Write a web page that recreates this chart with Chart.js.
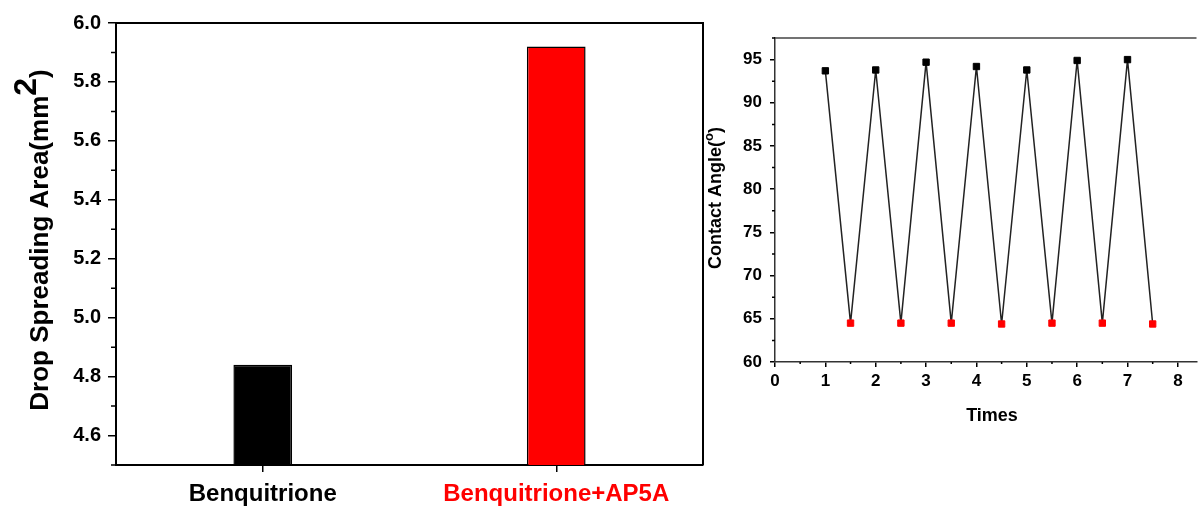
<!DOCTYPE html>
<html>
<head>
<meta charset="utf-8">
<script src="https://cdn.jsdelivr.net/npm/chart.js@4.4.0/dist/chart.umd.min.js"></script>
<style>
    html, body { margin: 0; padding: 0; background: #fff; }
    #wrap { position: relative; width: 1202px; height: 509px; overflow: hidden; }
    #areaChart { position: absolute; left: 0; top: 0; }
    #angleChart { position: absolute; left: 705px; top: 0; }
</style>
</head>
<body>
<div id="wrap">
    <canvas id="areaChart" width="712" height="509"></canvas>
    <canvas id="angleChart" width="497" height="509"></canvas>
</div>
<script>
// ==========================================
// DATA
// ==========================================

// Left panel - drop spreading area
const barCategories = ['Benquitrione', 'Benquitrione+AP5A'];
const barValues = [4.84, 5.92];
const barColors = ['#000000', '#ff0000'];

// Right panel - contact angle cycles
const highTimes = [1, 2, 3, 4, 5, 6, 7];
const highAngles = [93.7, 93.8, 94.7, 94.2, 93.8, 94.9, 95.0];
const lowTimes = [1.5, 2.5, 3.5, 4.5, 5.5, 6.5, 7.5];
const lowAngles = [64.5, 64.5, 64.5, 64.4, 64.5, 64.5, 64.4];

const FONT = '"Liberation Sans", Arial, sans-serif';

// zigzag line: high, low, high, low ...
const zigzag = [];
highTimes.forEach((t, i) => {
    zigzag.push({ x: t, y: highAngles[i] });
    zigzag.push({ x: lowTimes[i], y: lowAngles[i] });
});

// ==========================================
// HELPERS
// ==========================================

// short tick marks between the labelled ones
const drawMinor = (chart, axisId, first, step, len) => {
    const scale = chart.scales[axisId];
    const ctx = chart.ctx;
    ctx.save();
    ctx.strokeStyle = '#000';
    ctx.lineWidth = 1.5;
    ctx.beginPath();
    for (let v = first; v <= scale.max + 1e-9; v += step) {
        const p = scale.getPixelForValue(v);
        if (scale.isHorizontal()) {
            ctx.moveTo(p, scale.top);
            ctx.lineTo(p, scale.top + len);
        } else {
            ctx.moveTo(scale.right, p);
            ctx.lineTo(scale.right - len, p);
        }
    }
    ctx.stroke();
    ctx.restore();
};

// rotated axis title with a superscript part
const drawVTitle = (ctx, cx, cy, main, sup, tail, size, supSize, rise) => {
    ctx.save();
    ctx.translate(cx, cy);
    ctx.rotate(-Math.PI / 2);
    ctx.fillStyle = '#000';
    ctx.textBaseline = 'alphabetic';
    ctx.textAlign = 'left';
    ctx.font = `bold ${size}px ${FONT}`;
    const w1 = ctx.measureText(main).width;
    const w3 = ctx.measureText(tail).width;
    ctx.font = `bold ${supSize}px ${FONT}`;
    const w2 = ctx.measureText(sup).width;
    let x = -(w1 + w2 + w3) / 2;
    ctx.font = `bold ${size}px ${FONT}`;
    ctx.fillText(main, x, 0);
    x += w1;
    ctx.font = `bold ${supSize}px ${FONT}`;
    ctx.fillText(sup, x, -rise);
    x += w2;
    ctx.font = `bold ${size}px ${FONT}`;
    ctx.fillText(tail, x, 0);
    ctx.restore();
};

// ==========================================
// LEFT CHART (BAR)
// ==========================================

const areaDecor = {
    id: 'areaDecor',
    afterDraw(chart) {
        const ctx = chart.ctx;
        const a = chart.chartArea;
        ctx.save();
        ctx.strokeStyle = '#000';
        ctx.lineWidth = 2;
        ctx.beginPath();
        ctx.moveTo(a.left, a.top);
        ctx.lineTo(a.right, a.top);
        ctx.lineTo(a.right, a.bottom);
        ctx.stroke();
        ctx.restore();
        drawMinor(chart, 'y', 4.5, 0.2, 5);
        drawVTitle(ctx, 48, 240, 'Drop Spreading Area(mm', '2', ')', 26, 32, 12);
    }
};

new Chart(document.getElementById('areaChart'), {
    type: 'bar',
    data: {
        labels: barCategories,
        datasets: [{
            data: barValues,
            backgroundColor: barColors,
            borderColor: '#000',
            borderWidth: 1.5,
            barPercentage: 0.2,
            categoryPercentage: 1
        }]
    },
    options: {
        responsive: false,
        devicePixelRatio: 1,
        animation: false,
        layout: { padding: { left: 0, top: 23, right: 9, bottom: 0 } },
        plugins: { legend: { display: false }, tooltip: { enabled: false } },
        scales: {
            x: {
                afterFit: (s) => { s.height = 44; },
                grid: { offset: false, drawOnChartArea: false, tickLength: 7, color: '#000', lineWidth: 1.5 },
                border: { color: '#000', width: 2 },
                ticks: {
                    padding: 8,
                    color: (c) => barColors[c.index],
                    font: { family: FONT, size: 24, weight: 'bold' }
                }
            },
            y: {
                min: 4.5,
                max: 6.0,
                afterFit: (s) => { s.width = 116; },
                grid: { drawOnChartArea: false, tickLength: 8, color: '#000', lineWidth: 1.5 },
                border: { color: '#000', width: 2 },
                ticks: {
                    stepSize: 0.2,
                    includeBounds: false,
                    padding: 7,
                    color: '#000',
                    font: { family: FONT, size: 20, weight: 'bold' },
                    callback: (v) => Number(v).toFixed(1)
                }
            }
        }
    },
    plugins: [areaDecor]
});

// ==========================================
// RIGHT CHART (LINE + MARKERS)
// ==========================================

const angleDecor = {
    id: 'angleDecor',
    afterDraw(chart) {
        const ctx = chart.ctx;
        const a = chart.chartArea;
        ctx.save();
        ctx.strokeStyle = '#444';
        ctx.lineWidth = 1.5;
        ctx.beginPath();
        ctx.moveTo(a.left, a.top);
        ctx.lineTo(a.right, a.top);
        ctx.stroke();
        ctx.restore();
        drawMinor(chart, 'y', 62.5, 5, 3);
        drawMinor(chart, 'x', 0.5, 1, 2);
        // coordinates are local to this canvas (it starts at x = 705)
        drawVTitle(ctx, 16, 198, 'Contact Angle(', 'o', ')', 18, 13, 8);
        ctx.save();
        ctx.fillStyle = '#000';
        ctx.font = `bold 18px ${FONT}`;
        ctx.textAlign = 'center';
        ctx.textBaseline = 'alphabetic';
        ctx.fillText('Times', 287, 421);
        ctx.restore();
    }
};

new Chart(document.getElementById('angleChart'), {
    type: 'scatter',
    data: {
        datasets: [
            {
                data: highTimes.map((t, i) => ({ x: t, y: highAngles[i] })),
                pointStyle: 'rect',
                pointRadius: 4.5,
                backgroundColor: '#000',
                borderColor: '#000',
                borderWidth: 1
            },
            {
                data: lowTimes.map((t, i) => ({ x: t, y: lowAngles[i] })),
                pointStyle: 'rect',
                pointRadius: 4.5,
                backgroundColor: '#ff0000',
                borderColor: '#ff0000',
                borderWidth: 1
            },
            {
                data: zigzag,
                showLine: true,
                pointRadius: 0,
                borderColor: '#222',
                borderWidth: 1.5,
                tension: 0
            }
        ]
    },
    options: {
        responsive: false,
        devicePixelRatio: 1,
        animation: false,
        clip: false,
        layout: { padding: { left: 0, top: 38, right: 0, bottom: 0 } },
        plugins: { legend: { display: false }, tooltip: { enabled: false } },
        scales: {
            x: {
                type: 'linear',
                min: 0,
                max: 8.37,
                afterFit: (s) => { s.height = 147; },
                grid: { drawOnChartArea: false, tickLength: 5, color: '#000', lineWidth: 1.5 },
                border: { color: '#333', width: 1.5 },
                ticks: {
                    stepSize: 1,
                    includeBounds: false,
                    padding: 4,
                    color: '#000',
                    font: { family: FONT, size: 17, weight: 'bold' }
                }
            },
            y: {
                min: 60,
                max: 97.5,
                afterFit: (s) => { s.width = 70; },
                grid: { drawOnChartArea: false, tickLength: 5, color: '#000', lineWidth: 1.5 },
                border: { color: '#333', width: 1.5 },
                ticks: {
                    stepSize: 5,
                    includeBounds: false,
                    padding: 8,
                    color: '#000',
                    font: { family: FONT, size: 17, weight: 'bold' }
                }
            }
        }
    },
    plugins: [angleDecor]
});
</script>
</body>
</html>
